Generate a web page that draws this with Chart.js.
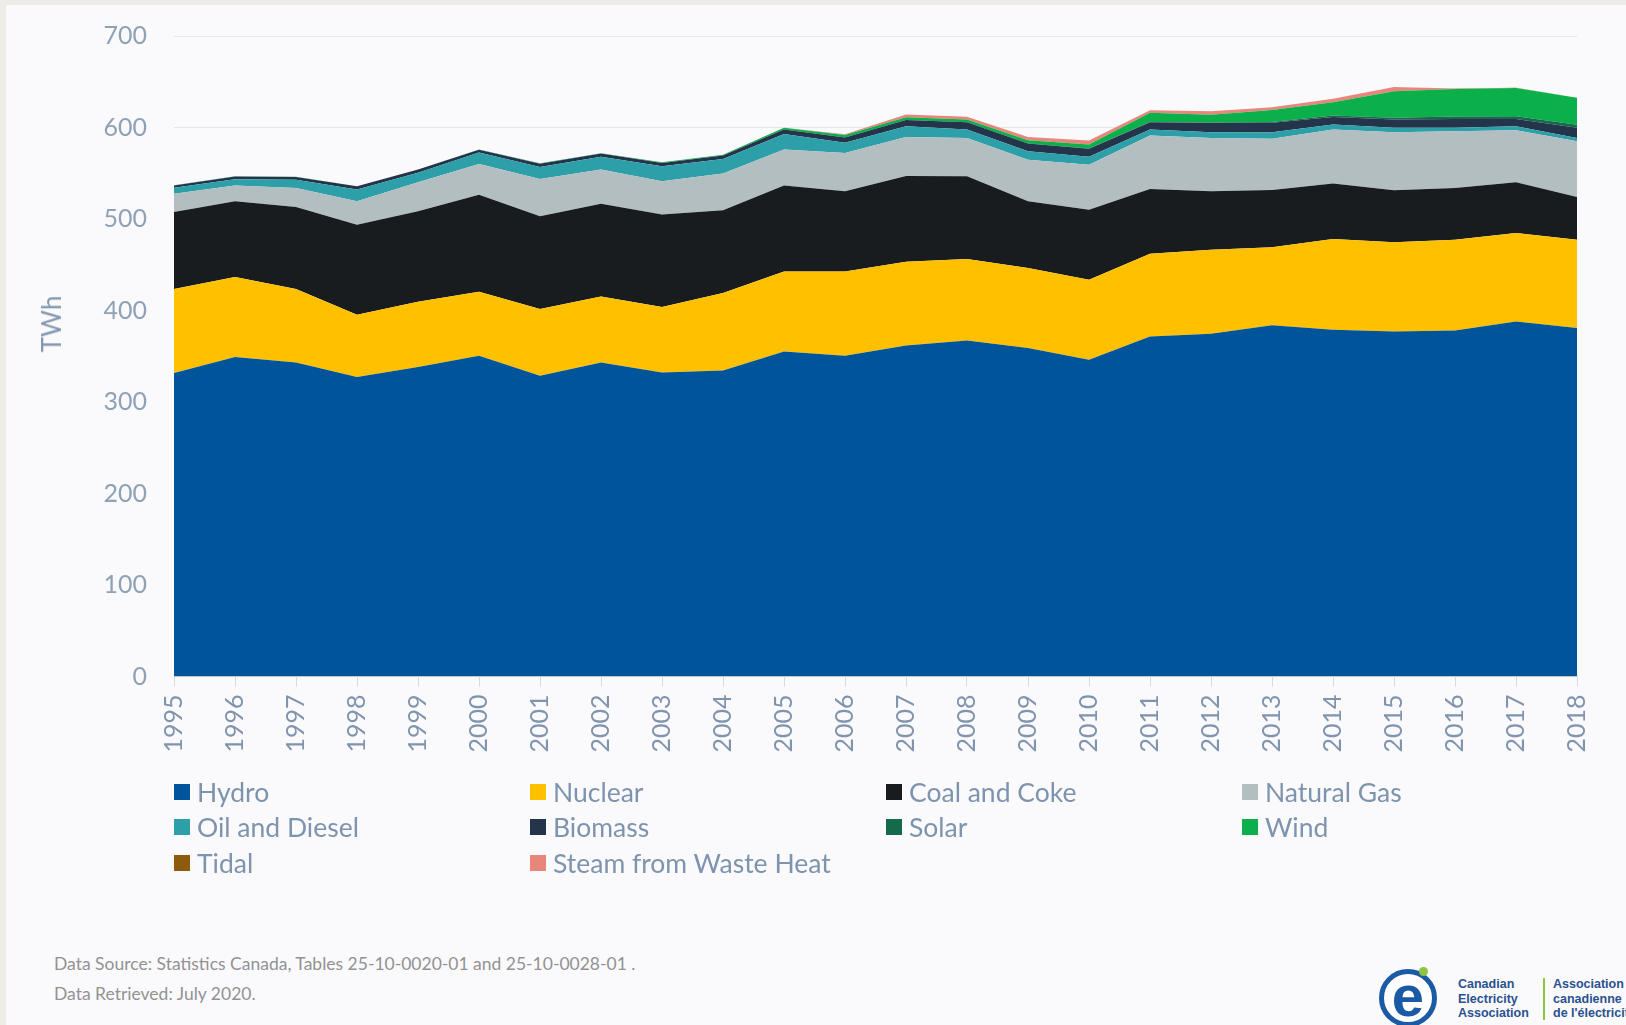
<!DOCTYPE html>
<html>
<head>
<meta charset="utf-8">
<script src="https://cdn.jsdelivr.net/npm/chart.js@4.4.1/dist/chart.umd.min.js"></script>
<style>
html,body{margin:0;padding:0;}
body{width:1626px;height:1025px;background:#edece7;position:relative;overflow:hidden;font-family:Lato,"Open Sans",sans-serif;}
#panel{position:absolute;left:6px;top:5px;right:0;bottom:0;background:#fafafc;}
#chartWrap{position:absolute;left:0;top:-6px;width:1626px;height:786px;}
#chartWrap canvas{display:block;}
#ytitle{position:absolute;left:51px;top:324px;transform:translate(-50%,-50%) rotate(-90deg);font-size:26px;color:#8497b0;white-space:nowrap;}
#legend{position:absolute;left:174px;top:774px;display:grid;grid-template-columns:356px 356px 356px 356px;grid-auto-rows:35.5px;}
.item{display:flex;align-items:center;font-size:26.5px;color:#7e93ae;white-space:nowrap;}
.sw{width:16px;height:16px;margin-right:7px;flex:none;}
.foot{position:absolute;left:54px;font-size:17.5px;color:#929292;white-space:nowrap;transform:translateY(-50%);}
#logo{position:absolute;left:1379px;top:969px;width:48px;height:48px;border:5px solid #1b5aa5;border-radius:50%;background:#fff;}
#logo span{position:absolute;left:0;top:-12px;width:48px;text-align:center;font:bold 58px Arial,"Liberation Sans",sans-serif;color:#1b5aa5;}
#dot{position:absolute;left:1419px;top:967px;width:9px;height:9px;border-radius:50%;background:#8cc63f;}
.ltxt{position:absolute;top:977px;font:bold 12.5px "Liberation Sans",Arial,sans-serif;color:#2a5190;line-height:14.5px;white-space:nowrap;}
#sep{position:absolute;left:1543px;top:978px;width:2px;height:42px;background:#8cc63f;}
</style>
</head>
<body>
<div id="panel"></div>
<div id="chartWrap"><canvas id="c" width="1626" height="786"></canvas></div>
<div id="ytitle">TWh</div>
<div id="legend"></div>
<div class="foot" style="top:963px">Data Source: Statistics Canada, Tables 25-10-0020-01 and 25-10-0028-01 .</div>
<div class="foot" style="top:993px">Data Retrieved: July 2020.</div>
<div id="logo"><span>e</span></div>
<div id="dot"></div>
<div class="ltxt" style="left:1458px">Canadian<br>Electricity<br>Association</div>
<div id="sep"></div>
<div class="ltxt" style="left:1553px">Association<br>canadienne<br>de l'électricité</div>
<script>
const years = ["1995","1996","1997","1998","1999","2000","2001","2002","2003","2004","2005","2006","2007","2008","2009","2010","2011","2012","2013","2014","2015","2016","2017","2018"];
const hydro   = [331.6,349.1,343.2,327.2,338.2,350.5,328.7,343.2,332.3,334.5,355.2,350.5,361.8,367.3,359.0,346.2,371.7,374.6,384.0,379.0,377.1,378.2,388.1,380.8];
const nuclear = [92.0,87.5,80.3,68.2,71.4,70.0,72.9,72.2,71.5,84.6,87.5,92.2,91.6,89.0,87.5,87.5,90.4,91.9,85.0,99.2,97.4,99.2,96.6,96.6];
const coal    = [84.0,82.7,89.7,98.4,98.8,106.0,101.3,101.4,101.0,90.4,93.8,87.5,93.7,90.4,72.8,76.5,70.8,63.7,62.7,60.5,56.8,56.6,55.4,46.7];
const gas     = [20.0,17.2,20.8,25.5,31.7,33.6,40.9,37.2,36.4,40.1,39.4,42.0,42.6,41.9,45.5,49.2,58.3,58.4,56.0,59.0,63.5,61.9,56.9,60.8];
const oil     = [6.6,7.0,9.0,13.0,10.5,12.5,13.0,14.0,16.5,16.0,17.0,11.0,11.6,9.2,9.2,8.5,6.5,6.2,7.2,5.5,4.8,3.7,4.4,3.7];
const biomass = [2.5,3.0,3.0,3.4,3.4,3.2,3.7,3.5,3.6,3.7,5.0,6.0,7.0,7.9,8.4,9.0,8.0,10.2,10.2,8.4,9.1,9.8,8.0,11.0];
const solar   = [0,0,0,0,0,0,0,0,0,0,0,0,0,0,0.1,0.2,0.3,0.5,1.0,1.5,2.0,2.5,3.0,3.5];
const wind    = [0.1,0.1,0.1,0.1,0.1,0.2,0.3,0.4,0.6,0.9,1.7,2.5,3.0,3.0,3.5,4.3,10.0,8.5,13.0,14.5,28.9,30.3,30.9,29.3];
const tidal   = [0.03,0.03,0.03,0.03,0.03,0.03,0.03,0.03,0.03,0.03,0.03,0.03,0.03,0.03,0.03,0.03,0.03,0.03,0.03,0.03,0.03,0.03,0.03,0.03];
const steam   = [0,0,0,0,0,0,0,0,0,0,0,0.8,3.0,2.9,3.7,4.4,2.8,3.7,3.0,3.7,4.5,0.3,0,0];

const seriesNames  = ["Hydro","Nuclear","Coal and Coke","Natural Gas","Oil and Diesel","Biomass","Solar","Wind","Tidal","Steam from Waste Heat"];
const seriesValues = [hydro,nuclear,coal,gas,oil,biomass,solar,wind,tidal,steam];
const seriesColors = ["#00559a","#ffc000","#181c1f","#b2bebf","#2c9fa8","#24344a","#136b4b","#0cb04a","#8c5b0b","#e8867c"];

const datasets = seriesNames.map((n,i)=>({
  label:n,
  data:seriesValues[i],
  backgroundColor:seriesColors[i],
  borderColor:'rgba(0,0,0,0)',
  borderWidth:0,
  pointRadius:0,
  tension:0,
  fill: i===0 ? 'origin' : '-1'
}));

const lg = document.getElementById('legend');
seriesNames.forEach((n,i)=>{
  const d=document.createElement('div');d.className='item';
  d.innerHTML='<div class="sw" style="background:'+seriesColors[i]+'"></div><span>'+n+'</span>';
  lg.appendChild(d);
});

new Chart(document.getElementById('c'),{
  type:'line',
  data:{labels:years,datasets:datasets},
  options:{
    responsive:false,animation:false,
    layout:{padding:{left:0,right:49,top:31,bottom:0}},
    plugins:{legend:{display:false},tooltip:{enabled:false}},
    scales:{
      x:{
        offset:false,
        grid:{drawOnChartArea:false,drawTicks:true,tickLength:10,color:'#d6dae1'},
        border:{display:true,color:'#d6dae1'},
        ticks:{autoSkip:false,minRotation:90,maxRotation:90,padding:8,color:'#8194ad',font:{family:'Lato',size:25}},
        afterFit(s){s.height=103.5;}
      },
      y:{
        stacked:true,min:0,max:700,
        ticks:{stepSize:100,padding:27,color:'#8fa1b6',font:{family:'Lato',size:25}},
        grid:{color:'#e3e6ec',drawTicks:false},
        border:{display:false},
        afterFit(s){s.width=174;}
      }
    }
  }
});
</script>
</body>
</html>
